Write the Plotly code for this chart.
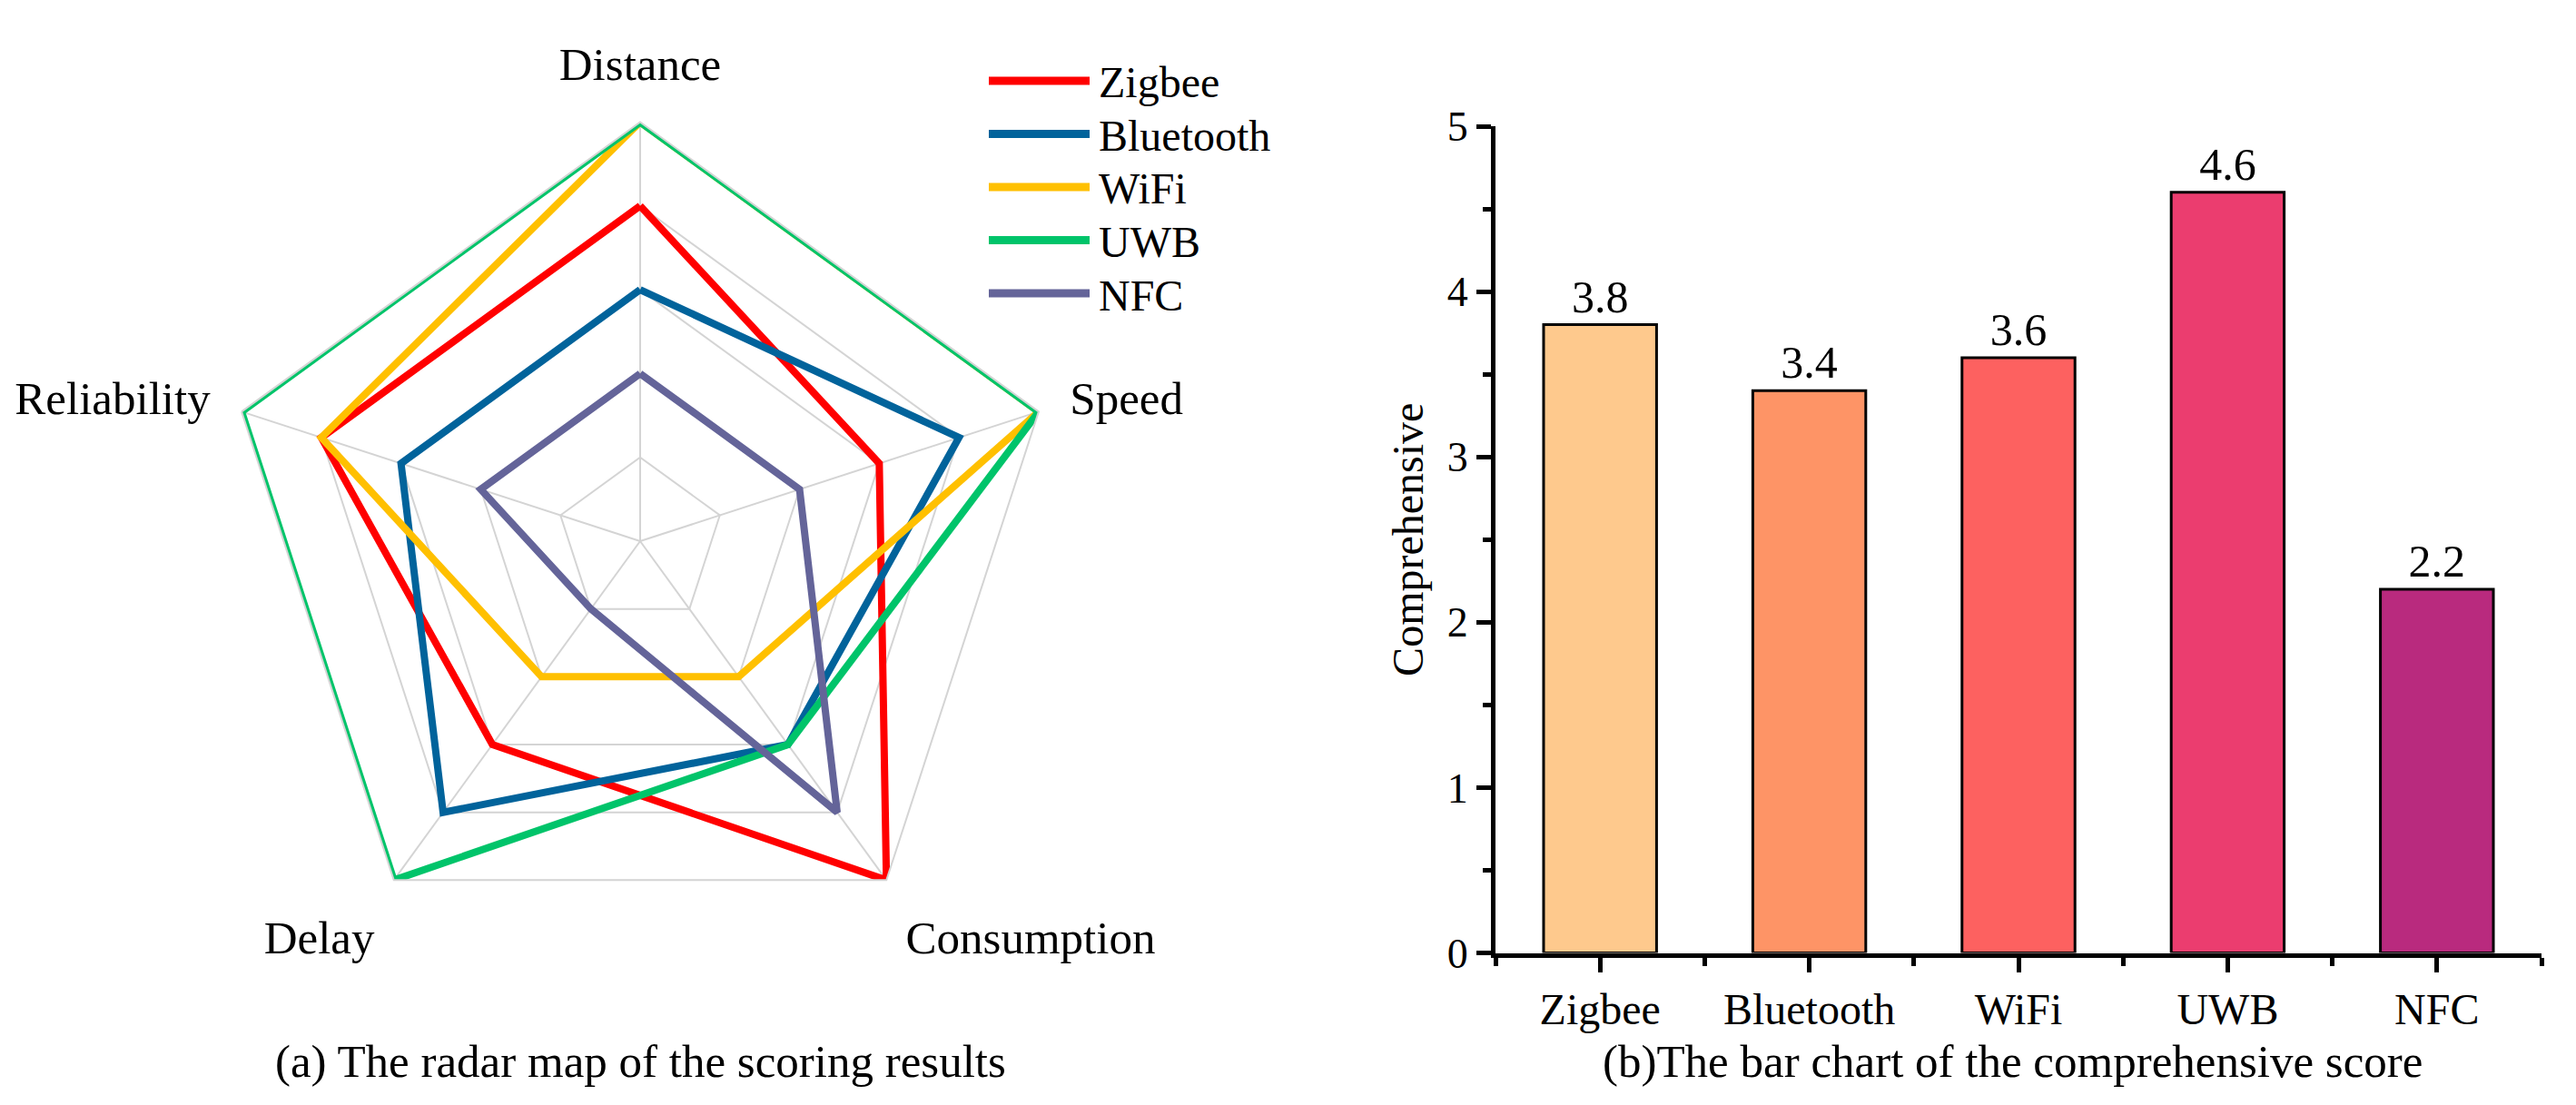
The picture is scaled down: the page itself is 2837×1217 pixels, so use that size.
import plotly.graph_objects as go

# ---------------- data ----------------
criteria = ["Distance", "Speed", "Consumption", "Delay", "Reliability"]
technologies = ["Zigbee", "Bluetooth", "WiFi", "UWB", "NFC"]
zigbee_scores = [4, 3, 5, 3, 4]
bluetooth_scores = [3, 4, 3, 4, 3]
wifi_scores = [5, 5, 2, 2, 4]
uwb_scores = [5, 5, 3, 5, 5]
nfc_scores = [2, 2, 4, 1, 2]
comprehensive_scores = [3.8, 3.4, 3.6, 4.6, 2.2]
y_ticks = [0, 1, 2, 3, 4, 5]

# ---------------- styles ----------------
FONT = "Liberation Serif"
line_colors = ["#FF0000", "#01639B", "#FFC000", "#00C46A", "#646499"]
bar_colors = ["#FEC98D", "#FE9466", "#FD6160", "#EB3D6F", "#B92A7E"]
radar_series = [zigbee_scores, bluetooth_scores, wifi_scores, uwb_scores, nfc_scores]
GRID = "#D4D4D4"

W, H = 2837, 1217
OFF = 8  # page body margin offset


def fx(px):
    return (px - OFF) / W


def fy(py):
    return 1 - (py - OFF) / H


fig = go.Figure()

for name, vals, col in zip(technologies, radar_series, line_colors):
    fig.add_trace(go.Scatterpolar(
        r=vals + vals[:1], theta=criteria + criteria[:1],
        mode="lines", name=name, showlegend=False,
        line=dict(color=col, width=8),
    ))

fig.add_trace(go.Bar(
    x=technologies, y=comprehensive_scores,
    marker=dict(color=bar_colors, line=dict(color="black", width=3)),
    text=[f"{v:.1f}" for v in comprehensive_scores],
    textposition="outside", textfont=dict(family=FONT, size=50, color="black"),
    cliponaxis=False, showlegend=False, xaxis="x", yaxis="y",
))

# radar geometry (screen px): centre (705, 596), half-size of domain 461.5
rc_x, rc_y, rh = 705, 596, 461.5

fig.update_layout(
    width=W, height=H,
    margin=dict(l=0, r=0, t=0, b=0, pad=0, autoexpand=False),
    paper_bgcolor="white", plot_bgcolor="white",
    font=dict(family=FONT, size=46, color="black"),
    bargap=0.46,
    showlegend=False,
    polar=dict(
        domain=dict(x=[fx(rc_x - rh), fx(rc_x + rh)], y=[fy(rc_y + rh), fy(rc_y - rh)]),
        bgcolor="white",
        gridshape="linear",
        angularaxis=dict(
            rotation=90, direction="clockwise",
            categoryorder="array", categoryarray=criteria,
            showline=True, linecolor=GRID, linewidth=2,
            gridcolor=GRID, gridwidth=2,
            ticks="outside", ticklen=25, tickcolor="rgba(0,0,0,0)",
            tickfont=dict(family=FONT, size=51, color="black"),
        ),
        radialaxis=dict(
            range=[0, 5], dtick=1, showticklabels=False, ticks="",
            showline=False, gridcolor=GRID, gridwidth=2,
        ),
    ),
    xaxis=dict(
        domain=[fx(1647), fx(2799)], range=[-0.5, 4.5],
        showline=True, linecolor="black", linewidth=5,
        ticks="outside", ticklen=16, tickwidth=5, tickcolor="black",
        tickfont=dict(family=FONT, size=48),
        minor=dict(ticks="outside", ticklen=9, tickwidth=5, tickcolor="black",
                   tickmode="array", tickvals=[-0.5, 0.5, 1.5, 2.5, 3.5, 4.5]),
        showgrid=False, zeroline=False, automargin=False,
    ),
    yaxis=dict(
        domain=[fy(1049.5), fy(139)], range=[0, 5],
        tickvals=y_ticks,
        showline=True, linecolor="black", linewidth=5,
        ticks="outside", ticklen=16, tickwidth=5, tickcolor="black",
        tickfont=dict(family=FONT, size=46),
        minor=dict(ticks="outside", ticklen=9, tickwidth=5, tickcolor="black", dtick=0.5),
        showgrid=False, zeroline=False, automargin=False,
        title=dict(text="Comprehensive", font=dict(family=FONT, size=48), standoff=12),
    ),
)

# custom legend (long line samples)
shapes = []
annotations = []
for i, (name, col) in enumerate(zip(technologies, line_colors)):
    sy = 89 + i * 58.5
    shapes.append(dict(type="line", xref="paper", yref="paper",
                       x0=fx(1089), x1=fx(1200), y0=fy(sy), y1=fy(sy),
                       line=dict(color=col, width=9)))
    annotations.append(dict(text=name, xref="paper", yref="paper",
                            x=fx(1208), y=fy(sy + 2), xanchor="left", yanchor="middle",
                            showarrow=False, font=dict(family=FONT, size=48, color="black")))

annotations.append(dict(text="(a) The radar map of the scoring results",
                        xref="paper", yref="paper", x=fx(705), y=fy(1169),
                        xanchor="center", yanchor="middle", showarrow=False,
                        font=dict(family=FONT, size=51, color="black")))
annotations.append(dict(text="(b)The bar chart of the comprehensive score",
                        xref="paper", yref="paper", x=fx(2216), y=fy(1169),
                        xanchor="center", yanchor="middle", showarrow=False,
                        font=dict(family=FONT, size=51, color="black")))
fig.update_layout(shapes=shapes, annotations=annotations)

fig.write_html("out.html")
